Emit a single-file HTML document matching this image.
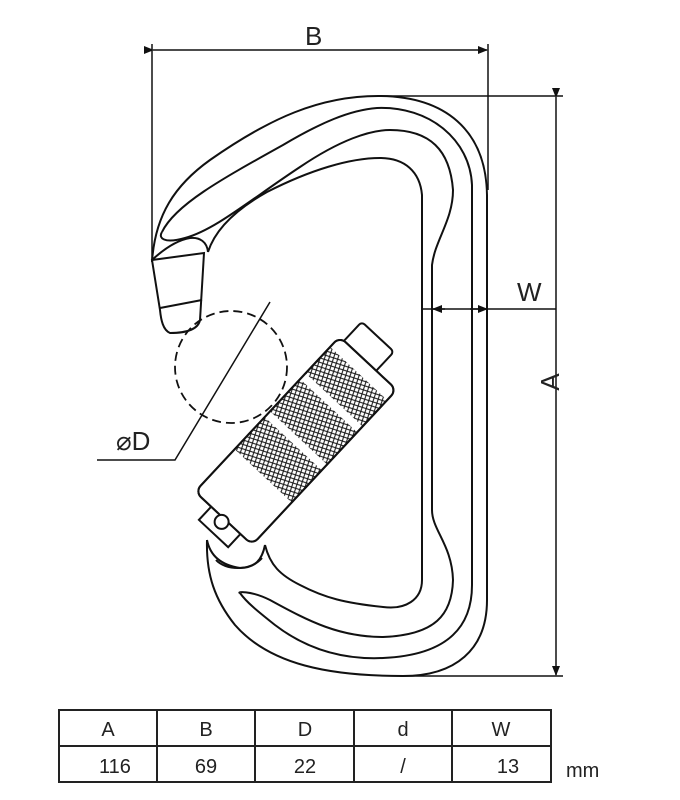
<!DOCTYPE html>
<html><head><style>
html,body{margin:0;padding:0;background:#fff;}
svg{display:block;}
text{font-family:"Liberation Sans",sans-serif;fill:#222;}
</style></head><body>
<svg width="680" height="800" viewBox="0 0 680 800" xmlns="http://www.w3.org/2000/svg">
<defs>
<pattern id="kn" width="6" height="6" patternUnits="userSpaceOnUse" patternTransform="rotate(20)">
<path d="M0 0L6 6M6 0L0 6" stroke="#111" stroke-width="1"/>
</pattern>
<marker id="ar" markerWidth="10" markerHeight="8" refX="9" refY="4" orient="auto" markerUnits="userSpaceOnUse">
<path d="M0 0L10 4L0 8z" fill="#111"/>
</marker>
</defs>
<g fill="none" stroke="#111" stroke-width="2">
<line x1="152" y1="44" x2="152" y2="262" stroke-width="1.5"/>
<line x1="488" y1="44" x2="488" y2="190" stroke-width="1.5"/>
<line x1="153" y1="50" x2="487" y2="50" stroke-width="1.5" marker-end="url(#ar)" marker-start="url(#ar)"/>
<line x1="378" y1="96" x2="563" y2="96" stroke-width="1.5"/>
<line x1="400" y1="676" x2="563" y2="676" stroke-width="1.5"/>
<line x1="556" y1="97" x2="556" y2="675" stroke-width="1.5" marker-end="url(#ar)" marker-start="url(#ar)"/>
<line x1="423" y1="309" x2="556" y2="309" stroke-width="1.5"/>
<line x1="445" y1="309" x2="433" y2="309" stroke-width="1.5" marker-end="url(#ar)"/>
<line x1="470" y1="309" x2="487" y2="309" stroke-width="1.5" marker-end="url(#ar)"/>
<path d="M152 262 C155 215 175 185 210 160 C270 118 320 96 378 96 C445 96 486 130 487 195 L487 600 C487 650 455 676 403 676 C330 676 270 665 235 625 C215 600 206 575 207 540"/>
<path d="M162 232 C175 205 220 180 283 145 C320 123 350 110 377 108 C430 106 470 140 472 185 L472 585 C472 625 450 655 383 658 C340 660 305 648 275 625 C260 613 247 603 240 593"/>
<path d="M162 232 C158 238 164 244 185 238 C215 230 250 200 300 167 C340 140 370 130 390 130 C430 130 450 150 453 190 C453 220 435 240 432 265 L432 510 C432 530 452 545 453 580 C452 615 435 635 383 637 C340 637 310 622 270 600 C250 590 236 592 240 593"/>
<path d="M208 252 C215 230 235 210 267 192 C310 170 350 158 380 158 C405 158 420 172 422 195 L422 580 C422 600 405 610 383 607 C345 603 325 598 300 585 C280 575 270 565 265 545"/>
<path d="M152 260 L204 253 L200 320 C198 330 185 333 170 333 C163 330 161 320 160 310 Z"/>
<path d="M160 308 L202 300"/>
<path d="M152 260 C165 248 178 240 190 238 C200 237 207 242 208 252"/>
<circle cx="231" cy="367" r="56" stroke-width="1.8" stroke-dasharray="9 5"/>
<polyline points="270,302 175,460 97,460" stroke-width="1.5"/>
<path d="M207 540 C210 555 220 565 240 568 C255 568 262 560 265 545"/>
<path d="M216 560 C225 570 250 572 262 558"/>
</g>
<g transform="translate(298,440) rotate(-47)" stroke="#111" stroke-width="2" fill="#fff">
<rect x="80" y="-34" width="50" height="44" rx="4"/>
<rect x="-126" y="-18" width="30" height="40" />
<rect x="-108" y="-40" width="212" height="78" rx="8"/>
<rect x="-50" y="-40" width="44" height="78" fill="url(#kn)" stroke="none"/>
<rect x="2" y="-40" width="44" height="78" fill="url(#kn)" stroke="none"/>
<rect x="54" y="-40" width="36" height="78" fill="url(#kn)" stroke="none"/>
<rect x="-108" y="-40" width="212" height="78" rx="8" fill="none"/>
<circle cx="-112" cy="0" r="7"/>
</g>
<g font-size="26">
<text x="305" y="45">B</text>
<text x="517" y="301">W</text>
<text x="549" y="392" transform="rotate(-90 549 382)" text-anchor="middle">A</text>
<text x="116" y="450">⌀D</text>
</g>
<g fill="none" stroke="#222" stroke-width="2">
<rect x="59" y="710" width="492" height="72"/>
<line x1="59" y1="746" x2="551" y2="746"/>
<line x1="157" y1="710" x2="157" y2="782"/>
<line x1="255" y1="710" x2="255" y2="782"/>
<line x1="354" y1="710" x2="354" y2="782"/>
<line x1="452" y1="710" x2="452" y2="782"/>
</g>
<g font-size="20" text-anchor="middle">
<text x="108" y="736">A</text><text x="206" y="736">B</text><text x="305" y="736">D</text><text x="403" y="736">d</text><text x="501" y="736">W</text>
<text x="115" y="773">116</text><text x="206" y="773">69</text><text x="305" y="773">22</text><text x="403" y="773">/</text><text x="508" y="773">13</text>
</g>
<text x="566" y="777" font-size="20">mm</text>
</svg>
</body></html>
